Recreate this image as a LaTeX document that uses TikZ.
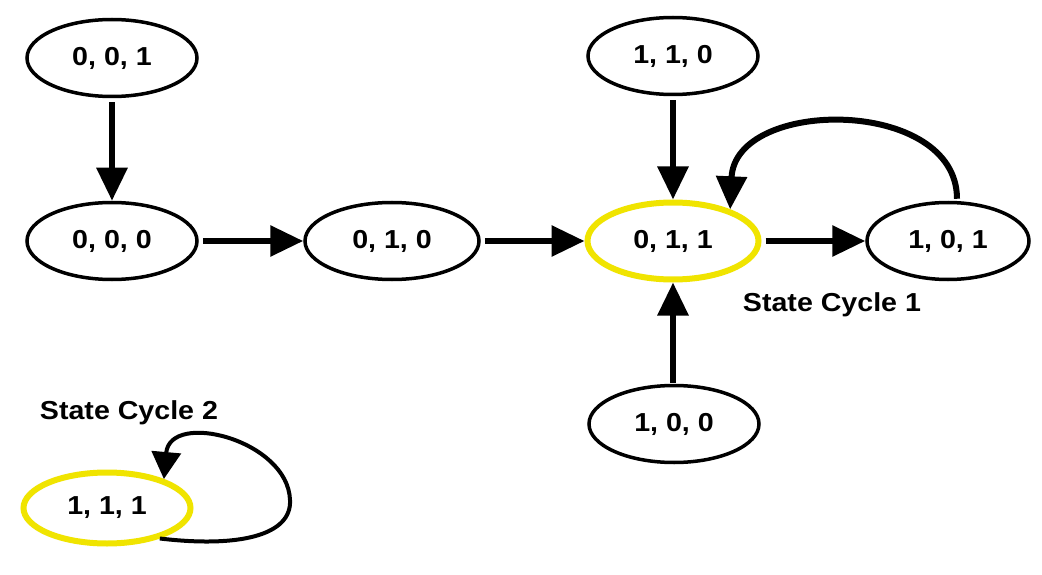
\documentclass[tikz,border=0pt]{standalone}
\usepackage{fontspec}
\setmainfont{Liberation Sans}[FakeStretch=1.1]
\usetikzlibrary{shapes.geometric,arrows.meta}
\definecolor{ylw}{RGB}{240,228,0}
\begin{document}
\begin{tikzpicture}[x=1pt,y=-1pt,
  st/.style={ellipse,draw=black,line width=3.5pt,minimum width=170pt,minimum height=77pt,inner sep=0pt,font=\fontsize{26}{30}\selectfont\bfseries},
  hl/.style={st,draw=ylw,line width=6pt,minimum width=171pt},
  lbl/.style={font=\fontsize{26}{30}\selectfont\bfseries,inner sep=0pt},
  arr/.style={line width=6pt,-{Triangle[length=33pt,width=30pt]},shorten <=4pt}]
\useasboundingbox[fill=white] (0,0) rectangle (1042,575);
\node[st] (a001) at (112,58) {0, 0, 1};
\node[st] (a000) at (112,241) {0, 0, 0};
\node[st,minimum width=174pt] (a010) at (392,241) {0, 1, 0};
\node[hl] (a011) at (673,241) {0, 1, 1};
\node[st,minimum width=162pt] (a101) at (948,241) {1, 0, 1};
\node[st] (a110) at (673,56) {1, 1, 0};
\node[st] (a100) at (674,424) {1, 0, 0};
\node[hl,minimum width=167pt,minimum height=71pt] (a111) at (107,508) {1, 1, 1};
\node[lbl] (sc1) at (832,305) {State Cycle 1};
\node[lbl] (sc2) at (129,413) {State Cycle 2};
\draw[arr] (a001) -- (a000);
\draw[arr] (a000) -- (a010);
\draw[arr] (a010) -- (a011);
\draw[arr] (a011) -- (a101);
\draw[arr] (a110) -- (a011);
\draw[arr,shorten <=1pt] (a100.north -| a011) -- (a011);
\draw[arr,shorten <=2pt] ([xshift=9pt]a101.north) .. controls (957,97) and (735,97) .. (a011.29);
\draw[arr,line width=4pt,-{Triangle[length=27pt,width=29pt]},shorten <=0pt] (a111.-30) .. controls (240,548) and (292,535) .. (290,500) .. controls (288,440) and (170,410) .. (a111.27);
\end{tikzpicture}
\end{document}
